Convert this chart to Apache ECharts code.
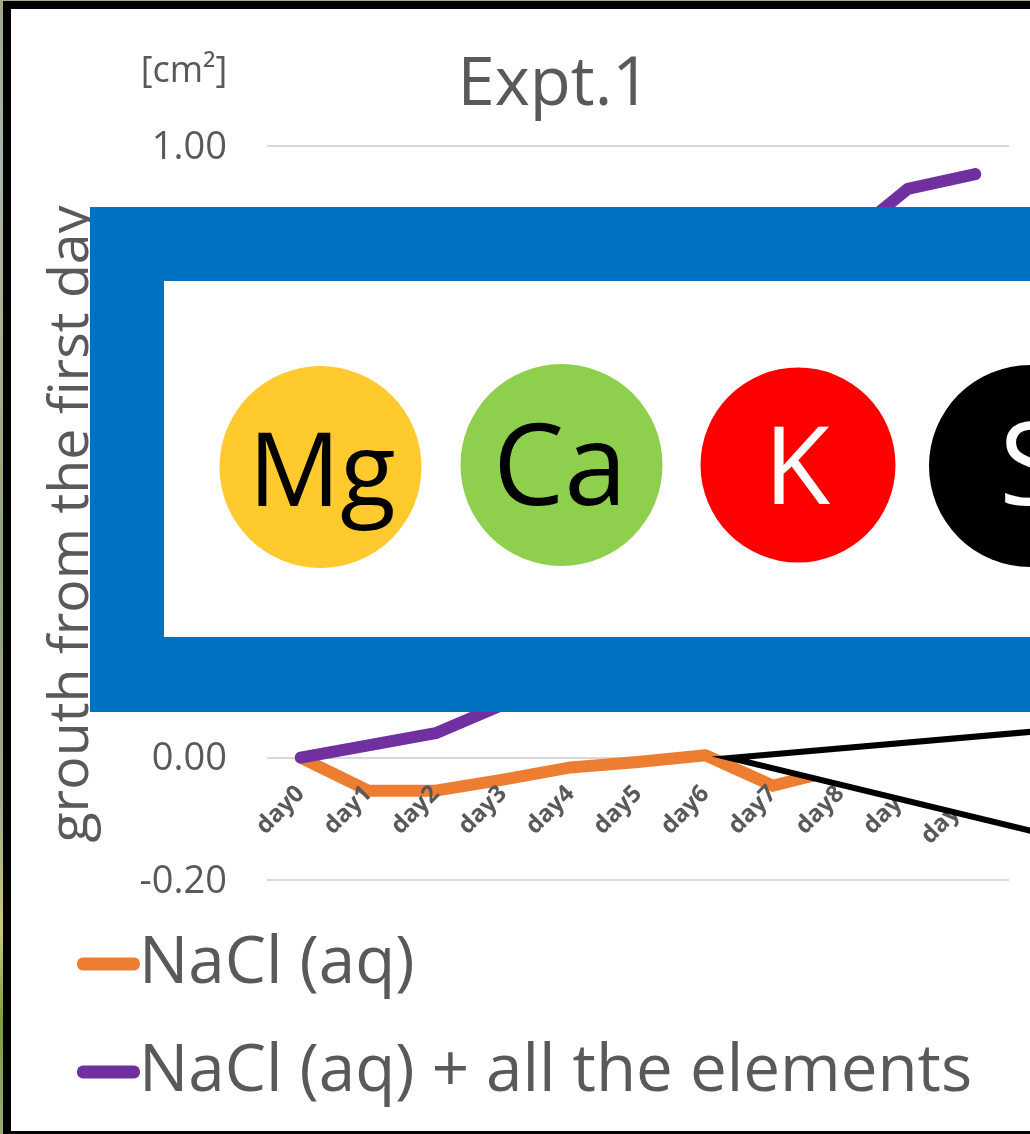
<!DOCTYPE html>
<html>
<head>
<meta charset="utf-8">
<style>
  html, body { margin: 0; padding: 0; background: #fff; }
  #chart { width: 1030px; height: 1134px; }
</style>
</head>
<body>
<div id="chart"></div>
<script src="https://cdn.jsdelivr.net/npm/echarts@6/dist/echarts.min.js"></script>
<script>
const days = ["day0", "day1", "day2", "day3", "day4", "day5", "day6", "day7", "day8", "day9", "day10"];
// day4-day8 of the purple line and day9-day10 of the orange line sit behind the overlay, estimated
const nacl = [0, -0.054, -0.054, -0.036, -0.016, -0.007, 0.004, -0.046, -0.018, -0.005, 0.005];
const naclAll = [0, 0.02, 0.04, 0.087, 0.2, 0.34, 0.5, 0.68, 0.84, 0.93, 0.954];
const yTicks = { min: -0.2, max: 1, interval: 0.2 };

const GREY = "#595959";
const ORANGE = "#ED7D31";
const PURPLE = "#7030A0";
const FONT = "Open Sans";

const charts = echarts.init(document.getElementById("chart"));

const badge = (cx, cy, r, fill, label, color, size, textX, textY) => [
  { type: "circle", z: 102, shape: { cx, cy, r }, style: { fill } },
  {
    type: "text", z: 103, x: textX, y: textY,
    style: { text: label, fill: color, font: "500 " + size + "px '" + FONT + "'", align: "center", verticalAlign: "middle" },
  },
];

charts.setOption({
  animation: false,
  backgroundColor: "#fff",
  title: {
    text: "Expt.1",
    left: 549,
    top: 47,
    textAlign: "center",
    textStyle: { color: GREY, fontFamily: FONT, fontWeight: "normal", fontSize: 67 },
  },
  legend: {
    orient: "vertical",
    left: 77,
    top: 931,
    padding: 0,
    itemWidth: 51,
    itemHeight: 1,
    itemGap: 42,
    icon: "rect",
    itemStyle: { borderWidth: 12, borderJoin: "round" },
    textStyle: { color: GREY, fontFamily: FONT, fontSize: 65.5 },
    data: [
      { name: "NaCl (aq)", itemStyle: { borderColor: ORANGE } },
      { name: "NaCl (aq) + all the elements", itemStyle: { borderColor: PURPLE } },
    ],
  },
  grid: { left: 267, right: 21, top: 146, bottom: 254 },
  xAxis: {
    type: "category",
    z: 5, // labels lie over the lines
    data: days,
    axisTick: { show: false },
    axisLine: { show: false },
    axisLabel: {
      color: GREY,
      fontFamily: FONT,
      fontWeight: "bold",
      fontSize: 24,
      rotate: 45,
      margin: -90, // labels sit next to the zero line, not the grid bottom
      interval: 0,
    },
  },
  yAxis: {
    type: "value",
    min: yTicks.min,
    max: yTicks.max,
    interval: yTicks.interval,
    name: "grouth from the first day",
    nameLocation: "middle",
    nameRotate: 90,
    nameGap: 167,
    nameTextStyle: { color: GREY, fontFamily: FONT, fontSize: 55.5, padding: [0, 22, 0, 0] },
    axisLine: { show: false },
    axisTick: { show: false },
    axisLabel: {
      color: GREY,
      fontFamily: FONT,
      fontSize: 38,
      margin: 40,
      verticalAlign: "top",
      padding: [-17, 0, 0, 0],
      formatter: (v) => v.toFixed(2),
    },
    splitLine: { lineStyle: { color: "#D9D9D9", width: 2 } },
  },
  series: [
    {
      name: "NaCl (aq)",
      type: "line",
      z: 1,
      data: nacl,
      symbol: "none",
      itemStyle: { color: ORANGE },
      lineStyle: { color: ORANGE, width: 12, cap: "round", join: "round" },
    },
    {
      name: "NaCl (aq) + all the elements",
      type: "line",
      z: 1,
      data: naclAll,
      symbol: "none",
      itemStyle: { color: PURPLE },
      lineStyle: { color: PURPLE, width: 12, cap: "round", join: "round" },
    },
  ],
  graphic: [
    // unit label
    {
      type: "text", z: 50, x: 184, y: 72,
      style: { text: "[cm²]", fill: GREY, font: "36px '" + FONT + "'", align: "center", verticalAlign: "middle" },
    },
    // blue framed panel over the chart
    { type: "rect", z: 100, shape: { x: 90, y: 207, width: 950, height: 505 }, style: { fill: "#0070C0" } },
    { type: "rect", z: 101, shape: { x: 164, y: 281, width: 870, height: 356 }, style: { fill: "#fff" } },
    ...badge(320.5, 467, 101, "#FFCA2E", "Mg", "#000", 102, 322, 477),
    ...badge(561.5, 465, 101, "#8ED04E", "Ca", "#000", 113, 560, 473),
    ...badge(798, 465, 97.5, "#FF0000", "K", "#fff", 108, 797, 473),
    ...badge(1030, 466, 101, "#000", "S", "#fff", 116, 1031, 472),
    // callout wedge
    {
      type: "polygon", z: 90,
      shape: { points: [[730, 758], [1040, 731], [1040, 833]] },
      style: { fill: "#fff", stroke: "#000", lineWidth: 6, lineJoin: "miter", miterLimit: 20 },
    },
    // picture frame
    { type: "rect", z: 110, shape: { x: 0, y: 1, width: 1030, height: 8 }, style: { fill: "#000" } },
    { type: "rect", z: 110, shape: { x: 3, y: 1, width: 8, height: 1133 }, style: { fill: "#000" } },
    { type: "rect", z: 110, shape: { x: 3, y: 1131, width: 1027, height: 3 }, style: { fill: "#000" } },
    {
      type: "rect", z: 110, shape: { x: 0, y: 0, width: 3, height: 1134 },
      style: {
        fill: new echarts.graphic.LinearGradient(0, 0, 0, 1, [
          { offset: 0, color: "#9fa98c" },
          { offset: 0.15, color: "#a9b5ad" },
          { offset: 0.3, color: "#b0ae8a" },
          { offset: 0.5, color: "#8fa27c" },
          { offset: 0.7, color: "#a6a787" },
          { offset: 0.82, color: "#c9c884" },
          { offset: 0.9, color: "#7f9a4a" },
          { offset: 1, color: "#98a878" },
        ]),
      },
    },
    { type: "rect", z: 110, shape: { x: 0, y: 0, width: 1030, height: 1 }, style: { fill: "#a8ad8c" } },
  ],
});
</script>
</body>
</html>
